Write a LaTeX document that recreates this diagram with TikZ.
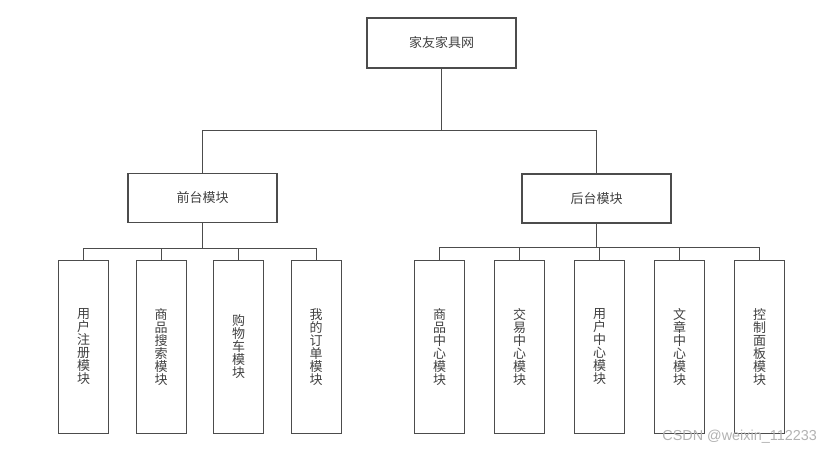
\documentclass[tikz,border=0pt]{standalone}
\usepackage{fontspec}
\newfontfamily\cjkfont{Noto Sans CJK SC}
\newfontfamily\markfont{Liberation Sans}
\usetikzlibrary{positioning}

\begin{document}
\begin{tikzpicture}[
    x=0.02cm, y=-0.02cm,
    node distance=0.53cm,
    topbox/.style={
      rectangle, draw=black!70, line width=0.6pt,
      minimum width=2.98cm, minimum height=1.0cm, inner sep=0pt,
      text=black!75, font=\cjkfont\fontsize{7.4}{7.4}\selectfont
    },
    subbox/.style={topbox, minimum height=0.98cm},
    leafbox/.style={topbox, minimum width=1.0cm, minimum height=3.46cm, align=center},
    line/.style={draw=black!70, line width=0.6pt}
  ]
    \useasboundingbox (0,0) rectangle (837,453);

    \node[topbox] (site) at (441.5,43) {家友家具网};
    \node[subbox] (front) at (202.5,198) {前台模块};
    \node[subbox] (back) at (596.5,198.5) {后台模块};

    % front-end modules
    \node[leafbox, anchor=north west] (reg) at (58,260) {用\\户\\注\\册\\模\\块};
    \node[leafbox, right=of reg] (search) {商\\品\\搜\\索\\模\\块};
    \node[leafbox, right=of search] (cart) {购\\物\\车\\模\\块};
    \node[leafbox, right=of cart] (order) {我\\的\\订\\单\\模\\块};

    % back-end modules
    \node[leafbox, anchor=north west] (goods) at (414,260) {商\\品\\中\\心\\模\\块};
    \node[leafbox, right=0.58cm of goods] (trade) {交\\易\\中\\心\\模\\块};
    \node[leafbox, right=0.58cm of trade] (user) {用\\户\\中\\心\\模\\块};
    \node[leafbox, right=0.58cm of user] (article) {文\\章\\中\\心\\模\\块};
    \node[leafbox, right=0.58cm of article] (panel) {控\\制\\面\\板\\模\\块};

    \node[anchor=west, inner sep=0pt, text=black!30, font=\markfont\fontsize{8.2}{8.2}\selectfont] (mark) at (662,437) {CSDN @weixin\_112233};

    \draw[line] (site.south) -- +(0,62) -| (front.north);
    \draw[line] (site.south) -- +(0,62) -| (back.north);
    \foreach \leaf in {reg,search,cart,order}
      \draw[line] (front.south) -- +(0,25) -| (\leaf.north);
    \foreach \leaf in {goods,trade,user,article,panel}
      \draw[line] (back.south) -- +(0,24) -| (\leaf.north);
  \end{tikzpicture}
\end{document}
